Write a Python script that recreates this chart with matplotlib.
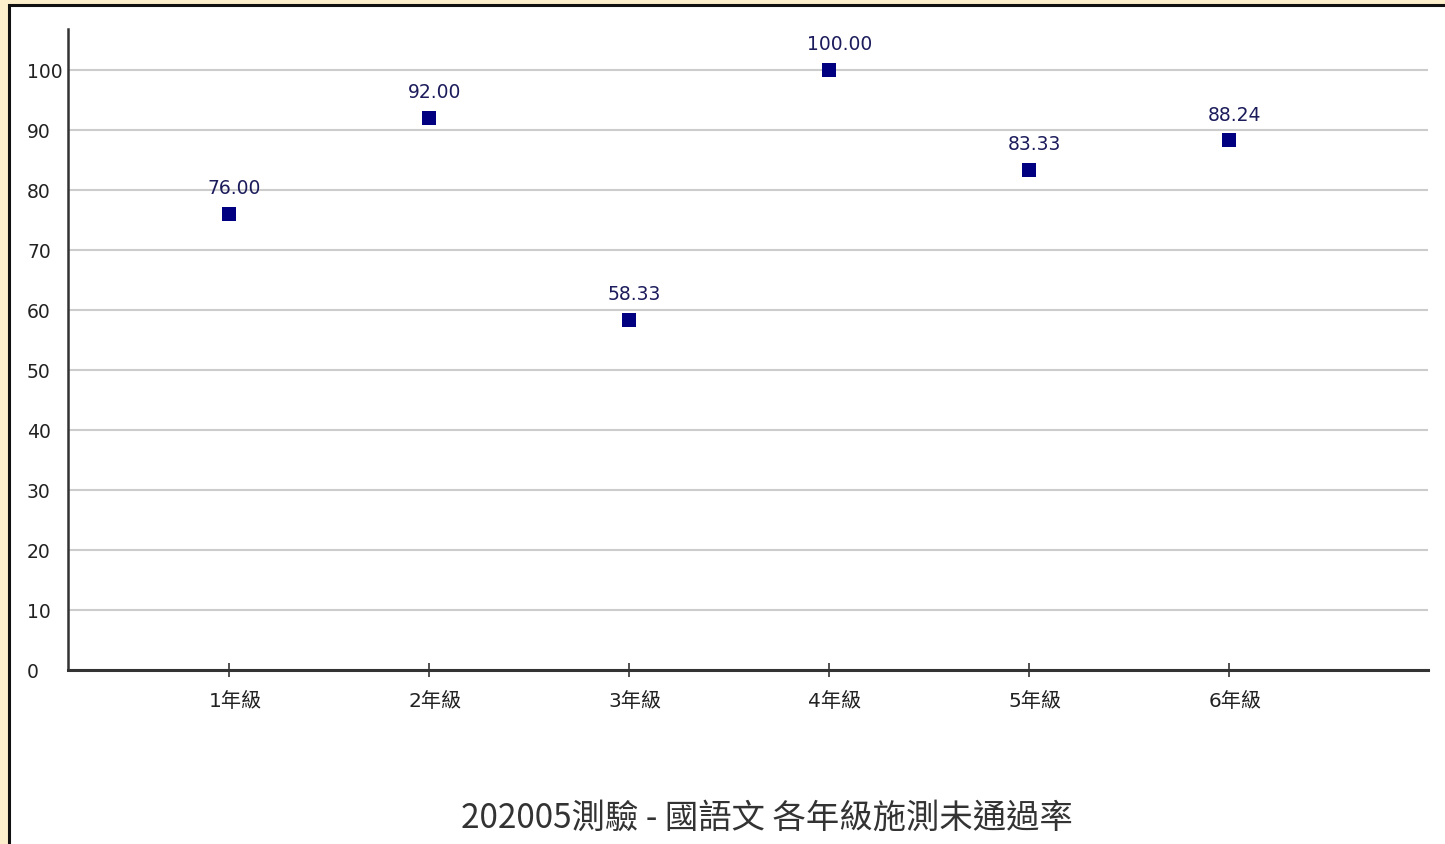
import matplotlib.pyplot as plt
from matplotlib.patches import Rectangle
from matplotlib.transforms import ScaledTranslation

plt.rcParams['font.family'] = ['DejaVu Sans', 'Noto Sans CJK TC']

# data
grades = ["1年級", "2年級", "3年級", "4年級", "5年級", "6年級"]
fail_rates = [76.00, 92.00, 58.33, 100.00, 83.33, 88.24]
y_ticks = [0, 10, 20, 30, 40, 50, 60, 70, 80, 90, 100]
title = "202005測驗 - 國語文 各年級施測未通過率"

W, H = 1445, 845
fig = plt.figure(figsize=(W / 100, H / 100), dpi=100)
fig.patch.set_facecolor("#fdefcc")

# white panel with black edge (runs off the right and bottom edges)
panel = Rectangle((9 / W, -0.1), 1.2, 1.1 - 6 / H, transform=fig.transFigure,
                  facecolor="white", edgecolor="#111111", linewidth=2.2, zorder=-10)
fig.patches.append(panel)

ax = fig.add_axes([68 / W, 1 - 671 / H, (1428 - 68) / W, (671 - 30) / H])
ax.set_facecolor("none")

xs = list(range(len(grades)))
ax.scatter(xs, fail_rates, marker="s", s=110, color="#000080", zorder=3, linewidths=0)
for x, v in zip(xs, fail_rates):
    ax.annotate(f"{v:.2f}", (x, v), xytext=(-15.5, 19), textcoords="offset points",
                ha="left", va="center", fontsize=13.5, color="#1c1c5c")

ax.set_xlim(-0.805, 5.995)
ax.set_ylim(0, 106.8)
ax.set_xticks(xs)
ax.set_xticklabels(grades, fontsize=14.5, color="#222222")
ax.set_yticks(y_ticks)
ax.set_yticklabels([str(t) for t in y_ticks], fontsize=13.5, color="#222222", ha="left")
ax.tick_params(axis="x", direction="inout", length=10, width=1.2, color="#333333", pad=10)
ax.tick_params(axis="y", length=0, pad=29.5)

# nudge category labels a little to the right, like the original
shift = ScaledTranslation(6 / 100, 0, fig.dpi_scale_trans)
for lbl in ax.get_xticklabels():
    lbl.set_transform(lbl.get_transform() + shift)

ax.grid(axis="y", color="#cccccc", linewidth=1.5)
ax.set_axisbelow(True)
for side in ["top", "right"]:
    ax.spines[side].set_visible(False)
ax.spines["left"].set_linewidth(1.8)
ax.spines["left"].set_color("#333333")
ax.spines["bottom"].set_linewidth(2.2)
ax.spines["bottom"].set_color("#333333")

fig.text(767 / W, 1 - 818 / H, title, ha="center", va="center", fontsize=24, color="#333333",
         family=["Noto Sans CJK TC", "DejaVu Sans"])

fig.savefig("out.png", dpi=100, facecolor=fig.get_facecolor())
